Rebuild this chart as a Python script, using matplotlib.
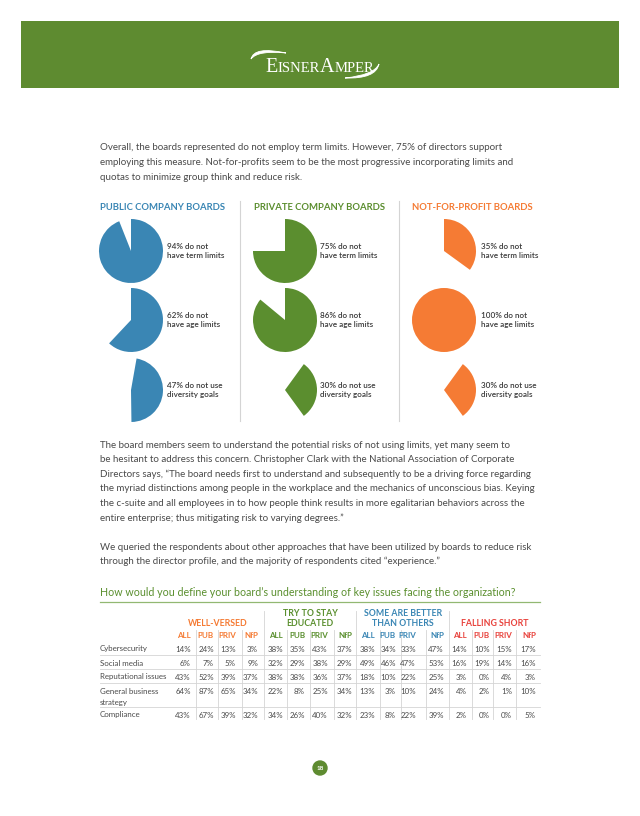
import matplotlib.pyplot as plt
from matplotlib.patches import Rectangle, Circle, PathPatch
from matplotlib.path import Path

# Pie data: % of boards
board_types = ["PUBLIC COMPANY BOARDS", "PRIVATE COMPANY BOARDS", "NOT-FOR-PROFIT BOARDS"]
no_term_limits = [94, 75, 35]
no_age_limits = [62, 86, 100]
no_diversity_goals = [47, 30, 30]
pie_captions = ["do not\nhave term limits", "do not\nhave age limits", "do not use\ndiversity goals"]

# Table data: rows = issues, columns = ALL, PUB, PRIV, NfP
issues = ["Cybersecurity", "Social media", "Reputational issues", "General business\nstrategy", "Compliance"]
answer_groups = ["WELL-VERSED", "TRY TO STAY\nEDUCATED", "SOME ARE BETTER\nTHAN OTHERS", "FALLING SHORT"]
sub_columns = ["ALL", "PUB", "PRIV", "NfP"]
well_versed = [[14, 24, 13, 3], [6, 7, 5, 9], [43, 52, 39, 37], [64, 87, 65, 34], [43, 67, 39, 32]]
try_to_stay_educated = [[38, 35, 43, 37], [32, 29, 38, 29], [38, 38, 36, 37], [22, 8, 25, 34], [34, 26, 40, 32]]
some_better_than_others = [[38, 34, 33, 47], [49, 46, 47, 53], [18, 10, 22, 25], [13, 3, 10, 24], [23, 8, 22, 39]]
falling_short = [[14, 10, 15, 17], [16, 19, 14, 16], [3, 0, 4, 3], [4, 2, 1, 10], [2, 0, 0, 5]]

intro_lines = [
    "Overall, the boards represented do not employ term limits. However, 75% of directors support",
    "employing this measure. Not-for-profits seem to be the most progressive incorporating limits and",
    "quotas to minimize group think and reduce risk.",
]
quote_lines = [
    "The board members seem to understand the potential risks of not using limits, yet many seem to",
    "be hesitant to address this concern. Christopher Clark with the National Association of Corporate",
    "Directors says, \u201cThe board needs first to understand and subsequently to be a driving force regarding",
    "the myriad distinctions among people in the workplace and the mechanics of unconscious bias. Keying",
    "the c-suite and all employees in to how people think results in more egalitarian behaviors across the",
    "entire enterprise; thus mitigating risk to varying degrees.\u201d",
]
outro_lines = [
    "We queried the respondents about other approaches that have been utilized by boards to reduce risk",
    "through the director profile, and the majority of respondents cited \u201cexperience.\u201d",
]
question = "How would you define your board\u2019s understanding of key issues facing the organization?"

W, H = 640, 816
FONT = "Lato"
TEXT = "#4a4a4a"
GREEN = "#5e8b30"
BLUE = "#3a86b4"
PIE_GREEN = "#5b8e2f"
ORANGE = "#f57b34"
RED = "#e8423c"
LINE = "#d4d4d4"
BODY = 7.0
TABLE = 5.7

fig = plt.figure(figsize=(W / 100, H / 100), dpi=100)
ax = fig.add_axes([0, 0, 1, 1])
ax.set_xlim(0, W)
ax.set_ylim(H, 0)
ax.axis("off")

# ---- header band with logo ----
ax.add_patch(Rectangle((21, 21), 598, 67, color=GREEN, lw=0))

renderer = fig.canvas.get_renderer()
logo_parts = [("E", 14.5), ("ISNER", 10.5), ("A", 14.5), ("MPER", 10.5)]
widths = []
for s, size in logo_parts:
    t = ax.text(0, 0, s, fontsize=size, family="Liberation Serif")
    widths.append(t.get_window_extent(renderer).width)
    t.remove()
x = 320 - sum(widths) / 2
for (s, size), w in zip(logo_parts, widths):
    ax.text(x, 72, s, fontsize=size, family="Liberation Serif", color="white", va="baseline")
    x += w

# swooshes around the logo
swoosh_top = Path([(251, 59), (254, 46), (286, 53), (258, 50), (251, 59)],
                  [Path.MOVETO, Path.CURVE3, Path.CURVE3, Path.CURVE3, Path.CURVE3])
swoosh_bottom = Path([(345, 78), (376, 79), (379, 64), (374, 75), (345, 78)],
                     [Path.MOVETO, Path.CURVE3, Path.CURVE3, Path.CURVE3, Path.CURVE3])
ax.add_patch(PathPatch(swoosh_top, fc="white", ec="white", lw=0.6))
ax.add_patch(PathPatch(swoosh_bottom, fc="white", ec="white", lw=0.6))

# ---- intro paragraph ----
for i, line in enumerate(intro_lines):
    ax.text(100, 148 + i * 14.7, line, fontsize=BODY, family=FONT, color=TEXT, va="center")

# ---- pie panels ----
col_x = [131, 285, 444]
row_y = [251, 320, 390]
label_x = [167, 320, 481]
radius = 32
colors = [BLUE, PIE_GREEN, ORANGE]
header_x = [100, 254, 412]
start_angles = [[90, 90, 80], [90, 90, 54], [90, 90, 54]]


def add_pie(cx, cy, pct, color, start):
    pax = fig.add_axes([(cx - radius) / W, 1 - (cy + radius) / H, 2 * radius / W, 2 * radius / H])
    pax.pie([pct, 100 - pct], colors=[color, "none"], startangle=start,
            counterclock=False, radius=1)
    pax.set_xlim(-1, 1)
    pax.set_ylim(-1, 1)
    pax.set_aspect("equal")
    pax.axis("off")


for c, name in enumerate(board_types):
    ax.text(header_x[c], 207, name, fontsize=6.8, family=FONT, weight="bold",
            color=colors[c], va="center")
    values = [no_term_limits[c], no_age_limits[c], no_diversity_goals[c]]
    for r, pct in enumerate(values):
        add_pie(col_x[c], row_y[r], pct, colors[c], start_angles[c][r])
        ax.text(label_x[c], row_y[r], f"{pct}% " + pie_captions[r], fontsize=5.9,
                family=FONT, weight="semibold", color="#3c3c3c", va="center",
                linespacing=1.4)

for sx in [240, 399]:
    ax.plot([sx, sx], [201, 421], color=LINE, lw=0.8)

# ---- body text ----
for i, line in enumerate(quote_lines):
    ax.text(100, 445 + i * 14.6, line, fontsize=BODY, family=FONT, color=TEXT, va="center")
for i, line in enumerate(outro_lines):
    ax.text(100, 547 + i * 14.6, line, fontsize=BODY, family=FONT, color=TEXT, va="center")

ax.text(100, 592, question, fontsize=7.7, family=FONT, color="#5a8f2e", va="center")
ax.plot([100, 540], [602, 602], color="#92b872", lw=0.9)

# ---- table ----
group_data = [well_versed, try_to_stay_educated, some_better_than_others, falling_short]
group_colors = [ORANGE, "#5a8f2e", BLUE, RED]
group_centers = [218, 310, 403, 495]
col_right = [[191, 214, 236, 258], [283, 305, 328, 352], [375, 396, 416, 444], [467, 490, 512, 536]]
row_centers = [649, 663, 677, 691, 715]
row_lines = [655, 669, 683, 707]
group_seps = [264, 356, 449]
col_seps = [196, 218, 242, 287, 310, 334, 380, 401, 426, 472, 493, 516]

for y in row_lines:
    ax.plot([100, 540], [y, y], color=LINE, lw=0.6)
for x in group_seps:
    ax.plot([x, x], [611, 719], color=LINE, lw=0.6)
for x in col_seps:
    ax.plot([x, x], [630, 719], color=LINE, lw=0.6)

for g, title in enumerate(answer_groups):
    parts = title.split("\n")
    for k, part in enumerate(reversed(parts)):
        ax.text(group_centers[g], 624 - k * 10, part, fontsize=6.3, family=FONT,
                weight="bold", color=group_colors[g], ha="center", va="center")
    for j, sub in enumerate(sub_columns):
        ax.text(col_right[g][j], 635, sub, fontsize=5.8, family=FONT, weight="bold",
                color=group_colors[g], ha="right", va="center")
        for r, row in enumerate(group_data[g]):
            ax.text(col_right[g][j], row_centers[r], f"{row[j]}%", fontsize=TABLE,
                    family=FONT, color=TEXT, ha="right", va="center")

for r, issue in enumerate(issues):
    for k, part in enumerate(issue.split("\n")):
        ax.text(100, row_centers[r] + k * 11, part, fontsize=TABLE, family=FONT,
                color=TEXT, va="center")

# ---- page number ----
ax.add_patch(Circle((320, 768), 7, color=GREEN))
ax.text(320, 768, "18", fontsize=4.6, family=FONT, weight="bold", color="white",
        ha="center", va="center")

fig.savefig("out.png", dpi=100)
